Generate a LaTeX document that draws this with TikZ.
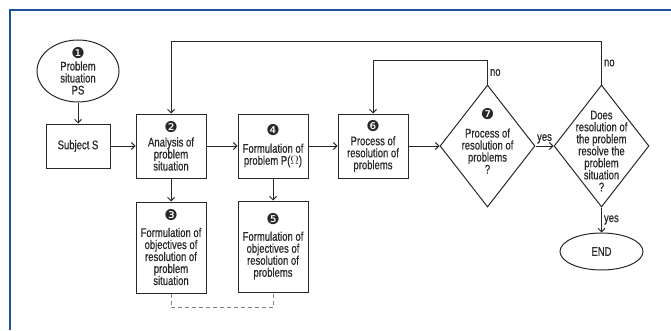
\documentclass[tikz,border=0pt]{standalone}
\usepackage{fontspec}
\setmainfont[FakeStretch=0.76,FakeBold=0.6]{Liberation Sans}
\newfontfamily\dingfont{DejaVu Sans}
\usepackage{tikz}
\usetikzlibrary{arrows.meta,positioning,shapes.geometric}
\definecolor{frameblue}{RGB}{28,84,156}
\definecolor{ink}{RGB}{40,40,40}
\newcommand{\stepno}[1]{{\dingfont\fontsize{15}{15}\selectfont #1}}

\begin{document}
\begin{tikzpicture}[
  box/.style={draw=ink, line width=1pt, minimum width=70pt, minimum height=64pt,
    align=center, inner sep=2pt, text=ink, font=\fontsize{12.5}{12}\selectfont},
  tallbox/.style={box, minimum height=91pt},
  decision/.style={draw=ink, line width=1pt, diamond, minimum width=95pt,
    minimum height=122pt, inner sep=0pt},
  terminal/.style={draw=ink, line width=1pt, ellipse, inner sep=0pt,
    text=ink, font=\fontsize{12.5}{12}\selectfont},
  txt/.style={align=center, text=ink, inner sep=0pt, font=\fontsize{12.5}{12}\selectfont},
  arrow/.style={-{Straight Barb[length=3.5pt,width=7pt]}, line width=1pt, draw=ink},
  dashline/.style={dashed, line width=1pt, draw=gray, dash pattern=on 4pt off 3pt},
  tag/.style={font=\fontsize{12.5}{12}\selectfont, text=ink, inner sep=2pt},
  frame/.style={draw=frameblue, line width=2pt}
]
  \useasboundingbox (0,0) rectangle (671pt,330pt);
  \draw[frame] (10pt,0pt) |- (671pt,320pt);

  \node[terminal, minimum width=82pt, minimum height=62pt,
    label={[txt]center:{\stepno{❶}\\Problem\\situation\\PS}}] (ps) at (78pt,259pt) {};
  \node[box, minimum width=64pt, minimum height=44pt, below=21pt of ps] (subj) {Subject S};
  \node[box, right=25pt of subj] (analysis) {\stepno{❷}\\[2pt]Analysis of\\problem\\situation};
  \node[box, right=31pt of analysis] (formul) {\stepno{❹}\\[5pt]Formulation of\\problem P($\Omega$)};
  \node[box, right=29pt of formul] (process) {\stepno{❻}\\[2pt]Process of\\resolution of\\problems};
  \node[decision, right=31pt of process,
    label={[txt, yshift=5pt]center:{\stepno{❼}\\[6pt]Process of\\resolution of\\problems\\?}}] (check) {};
  \node[decision, right=18pt of check,
    label={[txt, yshift=-5pt]center:{Does\\resolution of\\the problem\\resolve the\\problem\\situation\\?}}] (resolve) {};
  \node[tallbox, below=23pt of analysis] (goalsps) {\stepno{❸}\\[4pt]Formulation of\\objectives of\\resolution of\\problem\\situation};
  \node[tallbox, below=22pt of formul] (goalsp) {\stepno{❺}\\[4pt]Formulation of\\objectives of\\resolution of\\problems};
  \node[terminal, minimum width=83pt, minimum height=37pt, below=25pt of resolve] (endn) {END};

  \foreach \a/\b in {ps/subj, subj/analysis, analysis/formul, formul/process,
                     process/check, analysis/goalsps, formul/goalsp} {
    \draw[arrow] (\a) -- (\b);
  }
  \draw[arrow] (check) -- node[tag, above] {yes} (resolve);
  \draw[arrow] (resolve) -- node[tag, right] {yes} (endn);

  % Feedback arrows
  \draw[arrow] (check.north) -- node[tag, right] {no} ++(0,24pt) -| (process.north);
  \draw[arrow] (resolve.north) -- node[tag, right] {no} ++(0,43pt) -| (analysis.north);

  % Link between objectives
  \draw[dashline] (goalsps.south) -- ++(0,-14pt) -| (goalsp.south);
\end{tikzpicture}
\end{document}
